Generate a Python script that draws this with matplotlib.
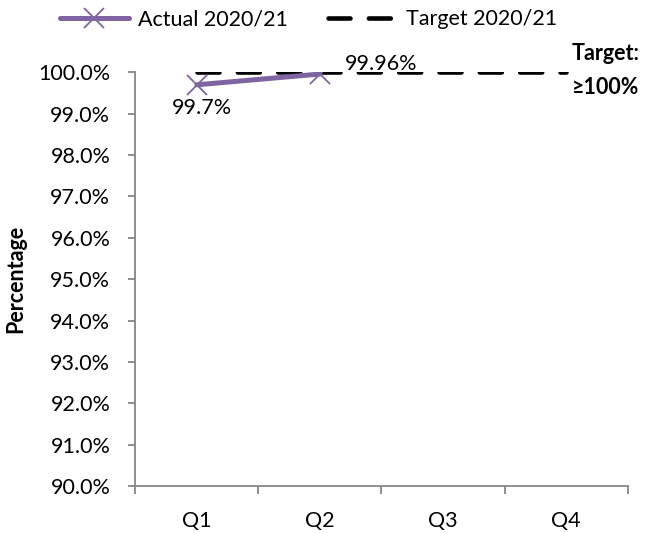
import matplotlib
matplotlib.use("Agg")
import matplotlib.pyplot as plt
from matplotlib.ticker import FixedLocator, PercentFormatter

plt.rcParams['font.family'] = ['Lato', 'DejaVu Sans']

quarters = ["Q1", "Q2", "Q3", "Q4"]
actual = [99.7, 99.96]
actual_labels = ["99.7%", "99.96%"]
target = [100.0, 100.0, 100.0, 100.0]
yticks = [90, 91, 92, 93, 94, 95, 96, 97, 98, 99, 100]

purple = "#8064A2"
grey = "#868686"
fs = 15.5

fig = plt.figure(figsize=(6.46, 5.33), dpi=100)
ax = fig.add_axes([0.2095, 0.0882, 0.762, 0.776])

x = list(range(1, len(quarters) + 1))
ax.plot(x, target, color="black", lw=3.3, ls=(0, (4.8, 4.0)),
        dash_capstyle="round", zorder=2, label="Target 2020/21")
ax.plot(x[:len(actual)], actual, color=purple, lw=3.6, marker="x",
        markersize=14, markeredgewidth=1.3, solid_capstyle="round",
        zorder=3, label="Actual 2020/21")

ax.annotate(actual_labels[0], (x[0], actual[0]), xytext=(-18, -16.5),
            textcoords="offset points", ha="left", va="center", fontsize=fs)
ax.annotate(actual_labels[1], (x[1], actual[1]), xytext=(18, 7),
            textcoords="offset points", ha="left", va="center", fontsize=fs)
ax.annotate("Target:\n≥100%", (x[-1], target[-1]), xytext=(4.3, 1.5),
            textcoords="offset points", ha="left", va="center", fontsize=fs,
            fontweight="bold", linespacing=1.75, annotation_clip=False)

ax.set_xlim(0.5, len(quarters) + 0.5)
ax.set_ylim(yticks[0], yticks[-1])
ax.set_xticks(x)
ax.set_xticklabels(quarters, fontsize=fs)
ax.xaxis.set_minor_locator(FixedLocator([i + 0.5 for i in range(len(quarters) + 1)]))
ax.tick_params(axis="x", which="major", length=0, pad=18)
ax.tick_params(axis="x", which="minor", length=6, color=grey, width=1.3)
ax.set_yticks(yticks)
ax.yaxis.set_major_formatter(PercentFormatter(decimals=1))
ax.tick_params(axis="y", length=5, color=grey, width=1.3, labelsize=fs, pad=13)

for s in ["top", "right"]:
    ax.spines[s].set_visible(False)
for s in ["left", "bottom"]:
    ax.spines[s].set_color(grey)
    ax.spines[s].set_linewidth(1.3)

ax.set_ylabel("Percentage", fontsize=fs, fontweight="bold")
ax.yaxis.set_label_coords(-0.222, 0.5)

handles, labels = ax.get_legend_handles_labels()
fig.legend(handles[::-1], labels[::-1], loc="center left",
           bbox_to_anchor=(0.0929, 0.964), ncol=2, frameon=False,
           fontsize=fs, handlelength=3.2, columnspacing=1.9,
           handletextpad=0.4, borderpad=0, borderaxespad=0)

fig.savefig("out.png", dpi=100)
